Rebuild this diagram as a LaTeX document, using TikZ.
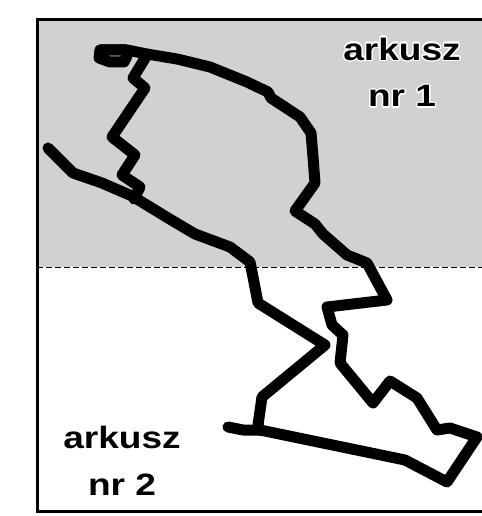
\documentclass[tikz,border=0pt]{standalone}
\usepackage{fontspec}
\usepackage{contour}
\setmainfont{Liberation Sans}[FakeStretch=1.2]
\usetikzlibrary{positioning}
\definecolor{sheetgray}{RGB}{209,209,209}
\contourlength{1.3pt}
\tikzset{
    sheet/.style={line width=3bp},
    cut/.style={line width=0.8bp, dash pattern=on 6bp off 3bp},
    road/.style={line width=11bp, line cap=round, line join=round},
    sheetlabel/.style={align=center, inner sep=0pt, font=\bfseries\fontsize{31}{47}\selectfont}
}
\begin{document}
\begin{tikzpicture}[x=1bp, y=-1bp]
    \useasboundingbox (0,0) rectangle (482,516);

    % Sheets
    \fill[sheetgray] (37,20) rectangle (490,267);
    \draw[cut] (37,267) -- (490,267);
    \draw[sheet] (490,20) -- (37,20) -- (37,511) -- (490,511);

    % Route
    \draw[road] (126,50) -- (100,50) -- (99,58) -- (110,62) -- (124,62) -- (127,56);
    \draw[road] (100,50) -- (127,50) -- (147,54) -- (177,59) -- (210,67) -- (247,82) -- (268,92) -- (271,98) -- (300,117) -- (311,133) -- (313,157) -- (315,183) -- (295,211) -- (315,224) -- (323,234) -- (347,255) -- (367,263) -- (387,300) -- (327,307) -- (332,325) -- (343,335) -- (340,363) -- (373,403) -- (390,381) -- (417,398) -- (437,430) -- (450,428) -- (477,437) -- (447,482) -- (405,460) -- (260,430) -- (258,425) -- (262,397) -- (325,345) -- (258,303) -- (253,277) -- (250,262) -- (230,247) -- (195,234) -- (168,218) -- (132,196) -- (102,183) -- (73,173) -- (48,148);
    \draw[road] (147,55) -- (133,78) -- (145,88) -- (112,137) -- (135,155) -- (122,175) -- (140,187) -- (134,199);
    \draw[road] (228,427) -- (243,430) -- (260,430);

    % Labels
    \node[sheetlabel, anchor=base] (sheet1) at (402,107) {\contour{white}{arkusz}\\\contour{white}{nr 1}};
    \node[sheetlabel, anchor=base] (sheet2) at (122,495) {arkusz\\nr 2};
\end{tikzpicture}
\end{document}
